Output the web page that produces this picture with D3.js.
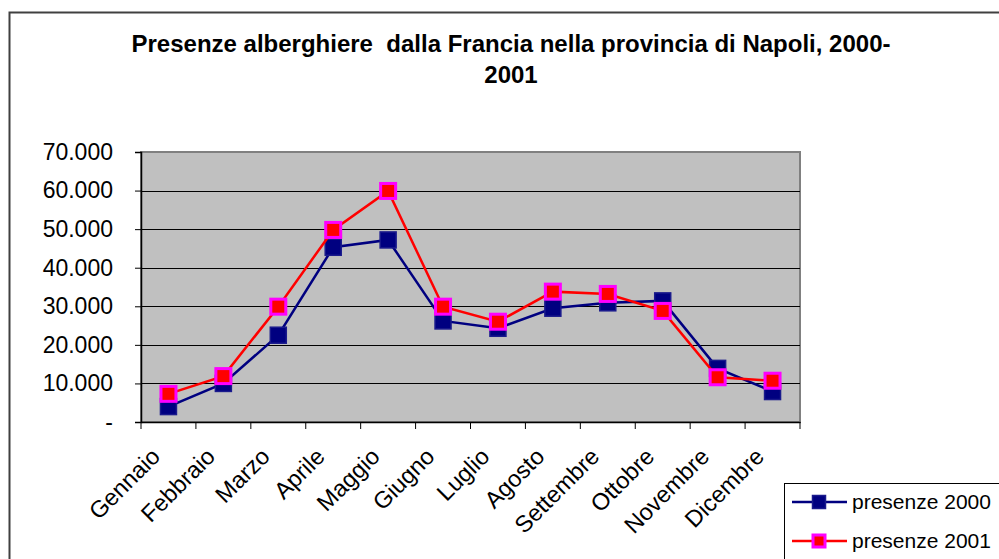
<!DOCTYPE html>
<html>
<head>
<meta charset="utf-8">
<script src="https://cdn.jsdelivr.net/npm/d3@7"></script>
<style>
  body { margin: 0; background: #fff; }
  svg { display: block; font-family: Arial, "Liberation Sans", sans-serif; }
</style>
</head>
<body>
<svg id="chart" width="999" height="559"></svg>
<script>
// data
var months = ['Gennaio', 'Febbraio', 'Marzo', 'Aprile', 'Maggio', 'Giugno',
  'Luglio', 'Agosto', 'Settembre', 'Ottobre', 'Novembre', 'Dicembre'];
var presenze2000 = [4000, 10000, 22500, 45300, 47200, 26200, 24300, 29500, 30900, 31400, 13900, 7900];
var presenze2001 = [7300, 11900, 29900, 49800, 59900, 29900, 26000, 33800, 33200, 28800, 11600, 10700];
var yTicks = [0, 10000, 20000, 30000, 40000, 50000, 60000, 70000];
var titleLines = ['Presenze alberghiere  dalla Francia nella provincia di Napoli, 2000-', '2001'];

var series = [
  { name: 'presenze 2000', values: presenze2000, line: '#000080', fill: '#000080', stroke: '#1a1a8c', size: 16, sw: 1.5 },
  { name: 'presenze 2001', values: presenze2001, line: '#ff0000', fill: '#ff0000', stroke: '#ff00ff', size: 15, sw: 3 }
];

var svg = d3.select('#chart');
var plot = { left: 141, right: 800, top: 152, bottom: 422 };

// outer chart border
svg.append('rect')
  .attr('x', 9.5).attr('y', 12.5)
  .attr('width', 1000).attr('height', 560)
  .attr('fill', '#fff').attr('stroke', '#404040').attr('stroke-width', 2);

// title
svg.append('g').selectAll('text')
  .data(titleLines)
  .enter()
  .append('text')
  .attr('x', 511)
  .attr('y', function(d, i) { return 52 + i * 31; })
  .attr('text-anchor', 'middle')
  .style('font-size', '24px')
  .style('font-weight', 'bold')
  .style('white-space', 'pre')
  .text(function(d) { return d; });

var x = d3.scaleBand().domain(months).range([plot.left, plot.right]);
var y = d3.scaleLinear().domain([0, 70000]).range([plot.bottom, plot.top]);

// plot background
svg.append('rect')
  .attr('x', plot.left).attr('y', plot.top)
  .attr('width', plot.right - plot.left).attr('height', plot.bottom - plot.top)
  .attr('fill', '#c0c0c0').attr('stroke', '#808080').attr('stroke-width', 2);

// gridlines
svg.append('g').selectAll('line')
  .data(yTicks.filter(function(d) { return d > 0 && d < 70000; }))
  .enter()
  .append('line')
  .attr('x1', plot.left).attr('x2', plot.right)
  .attr('y1', function(d) { return Math.round(y(d)) + 0.5; })
  .attr('y2', function(d) { return Math.round(y(d)) + 0.5; })
  .attr('stroke', '#000').attr('stroke-width', 1);

var fmt = function(d) {
  if (d === 0) return '-';
  return d3.format(',')(d).replace(/,/g, '.');
};

// y axis
var yAxis = svg.append('g')
  .attr('transform', 'translate(' + plot.left + ',0)')
  .call(d3.axisLeft(y).tickValues(yTicks).tickSize(6).tickPadding(22).tickFormat(fmt));
yAxis.select('.domain').attr('stroke', '#000').attr('stroke-width', 1.5);
yAxis.selectAll('.tick line').attr('stroke', '#000');
yAxis.selectAll('text').style('font-size', '23px').attr('fill', '#000').attr('font-family', null);

// x axis
var xAxis = svg.append('g')
  .attr('transform', 'translate(0,' + plot.bottom + ')')
  .call(d3.axisBottom(x).tickSize(0).tickSizeOuter(0).tickFormat(''));
xAxis.select('.domain').attr('stroke', '#000').attr('stroke-width', 1.5);

// tick marks between categories
svg.append('g').selectAll('line')
  .data(d3.range(months.length + 1))
  .enter()
  .append('line')
  .attr('x1', function(i) { return plot.left + i * x.step(); })
  .attr('x2', function(i) { return plot.left + i * x.step(); })
  .attr('y1', plot.bottom).attr('y2', plot.bottom + 7)
  .attr('stroke', '#000').attr('stroke-width', 1);

// rotated month labels
svg.append('g').selectAll('text')
  .data(months)
  .enter()
  .append('text')
  .attr('transform', function(d) {
    return 'translate(' + (x(d) + x.bandwidth() / 2 - 7) + ',' + 458 + ') rotate(-45)';
  })
  .attr('text-anchor', 'end')
  .style('font-size', '23.5px')
  .text(function(d) { return d; });

// lines and markers
var line = d3.line()
  .x(function(d, i) { return x(months[i]) + x.bandwidth() / 2; })
  .y(function(d) { return y(d); });

series.forEach(function(s) {
  var g = svg.append('g');
  g.append('path')
    .datum(s.values)
    .attr('d', line)
    .attr('fill', 'none')
    .attr('stroke', s.line)
    .attr('stroke-width', 2.5);
  g.selectAll('rect')
    .data(s.values)
    .enter()
    .append('rect')
    .attr('x', function(d, i) { return x(months[i]) + x.bandwidth() / 2 - s.size / 2; })
    .attr('y', function(d) { return y(d) - s.size / 2; })
    .attr('width', s.size).attr('height', s.size)
    .attr('fill', s.fill)
    .attr('stroke', s.stroke)
    .attr('stroke-width', s.sw);
});

// legend
var legend = svg.append('g');
legend.append('rect')
  .attr('x', 784.5).attr('y', 483.5)
  .attr('width', 230).attr('height', 100)
  .attr('fill', '#fff').attr('stroke', '#000').attr('stroke-width', 1);

var items = legend.selectAll('g')
  .data(series)
  .enter()
  .append('g')
  .attr('transform', function(d, i) { return 'translate(0,' + (502 + i * 39) + ')'; });
items.append('line')
  .attr('x1', 792).attr('x2', 847)
  .attr('stroke', function(d) { return d.line; })
  .attr('stroke-width', 2.5);
items.append('rect')
  .attr('x', function(d) { return 819 - (d.size - 3) / 2; })
  .attr('y', function(d) { return -(d.size - 3) / 2; })
  .attr('width', function(d) { return d.size - 3; })
  .attr('height', function(d) { return d.size - 3; })
  .attr('fill', function(d) { return d.fill; })
  .attr('stroke', function(d) { return d.stroke; })
  .attr('stroke-width', function(d) { return d.sw; });
items.append('text')
  .attr('x', 852).attr('y', 7)
  .style('font-size', '21px')
  .text(function(d) { return d.name; });
</script>
</body>
</html>
